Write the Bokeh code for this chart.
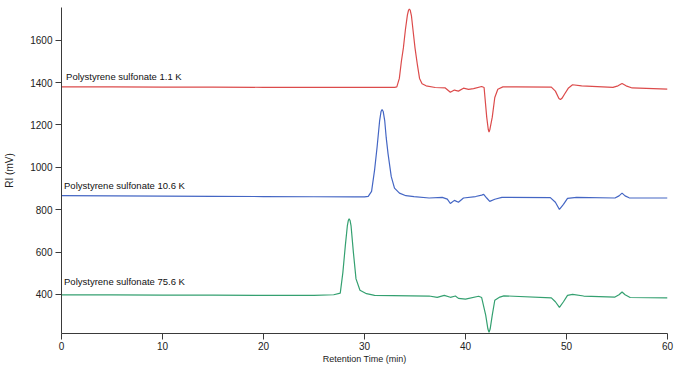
from bokeh.plotting import figure
from bokeh.models import FixedTicker, ColumnDataSource
from bokeh.core.properties import value
from bokeh.embed import file_html
from bokeh.resources import INLINE

# Retention time (min) and RI (mV)
red_t = [0, 5, 10, 15, 20, 25, 30, 33.0, 33.2, 33.45, 33.65, 33.85, 34.05, 34.25, 34.36, 34.44, 34.53, 34.65, 34.8,
         35.0, 35.25, 35.45, 35.7, 36.1, 37.0, 38.0, 38.5, 38.9, 39.3, 39.8, 40.3, 40.8, 41.6, 41.84,
         42.1, 42.25, 42.33, 42.42, 42.65, 42.9, 43.2, 43.7, 45.0, 48.5, 48.9, 49.25, 49.4, 49.55, 49.8, 50.2, 50.6, 51.5, 54.6,
         55.1, 55.5, 55.9, 56.5, 60]
red_v = [1380, 1380, 1379, 1379, 1378, 1378, 1378, 1378, 1380, 1420, 1500, 1564, 1650, 1720, 1742, 1748, 1742, 1715, 1650,
         1564, 1480, 1420, 1395, 1385, 1377, 1375, 1355, 1365, 1360, 1374, 1368, 1372, 1382, 1377,
         1237, 1180, 1167, 1180, 1237, 1330, 1369, 1380, 1380, 1379, 1360, 1325, 1320, 1326, 1345, 1375, 1390, 1385, 1378,
         1385, 1396, 1385, 1375, 1369]

blue_t = [0, 5, 10, 15, 20, 25, 29, 30.0, 30.37, 30.7, 31.0, 31.25, 31.5, 31.64, 31.74, 31.85, 32.0, 32.15, 32.33, 32.65,
          32.97, 33.46, 34.1, 34.9, 36.4, 37.7, 38.2, 38.5, 38.9, 39.3, 39.8, 41.0, 41.6, 41.8, 42.1,
          42.4, 42.9, 43.6, 48.4, 48.9, 49.3, 49.7, 50.1, 51.0, 54.8, 55.2, 55.5, 55.8, 56.2, 60]
blue_v = [866, 865, 864, 863, 862, 861, 860, 860, 863, 886, 988, 1097, 1221, 1264, 1273, 1264, 1221, 1140, 1065, 956,
          902, 878, 866, 862, 855, 858, 850, 829, 844, 835, 855, 862, 869, 872, 855,
          839, 849, 858, 857, 835, 801, 825, 853, 858, 855, 865, 878, 865, 856, 855]

green_t = [0, 5, 10, 15, 20, 25, 26.95, 27.6, 27.86, 28.1, 28.3, 28.4, 28.48, 28.57, 28.67, 28.9, 29.16, 29.55, 30.2,
           31.0, 36.4, 37.2, 37.9, 38.5, 39.0, 39.3, 40.0, 41.3, 41.6, 42.0, 42.22, 42.33, 42.44, 42.65, 42.9, 43.4,
           43.8, 48.5, 48.9, 49.3, 49.7, 50.1, 50.6, 51.7, 54.8, 55.2, 55.5, 55.8, 56.3, 60]
green_v = [397, 397, 396, 396, 395, 395, 398, 406, 504, 629, 723, 749, 757, 749, 723, 598, 473, 419, 403,
           395, 392, 386, 395, 386, 392, 381, 377, 391, 385, 302, 236, 221, 236, 302, 372, 387,
           393, 383, 365, 338, 365, 395, 400, 392, 387, 398, 411, 398, 385, 383]

labels = ["Polystyrene sulfonate 1.1 K", "Polystyrene sulfonate 10.6 K", "Polystyrene sulfonate 75.6 K"]
label_t = [0.45, 0.25, 0.25]
label_v = [1428, 913, 462]

x_ticks = [0, 10, 20, 30, 40, 50, 60]
y_ticks = [400, 600, 800, 1000, 1200, 1400, 1600]

FONT = "Liberation Sans"
AX = "#3a3a3a"

p = figure(width=674, height=366, x_range=(0, 60), y_range=(215, 1755),
           output_backend="svg", toolbar_location=None,
           min_border_left=61, min_border_right=7, min_border_top=7, min_border_bottom=33)

p.line(red_t, red_v, line_color="#dc4b4b", line_width=1.2)
p.line(blue_t, blue_v, line_color="#4466c4", line_width=1.2)
p.line(green_t, green_v, line_color="#34a070", line_width=1.2)

src = ColumnDataSource(dict(x=label_t, y=label_v, t=labels))
p.text(x="x", y="y", text="t", source=src, text_font=value(FONT), text_font_size="9.5px",
       text_color="#111111", text_baseline="middle", text_align="left")

p.xgrid.visible = False
p.ygrid.visible = False
p.outline_line_color = None

for ax in (p.xaxis[0], p.yaxis[0]):
    ax.axis_line_color = AX
    ax.major_tick_line_color = AX
    ax.minor_tick_line_color = None
    ax.major_tick_in = 0
    ax.major_tick_out = 6
    ax.major_label_text_font = FONT
    ax.major_label_text_font_size = "10px"
    ax.major_label_text_color = "#222222"
    ax.axis_label_text_font = FONT
    ax.axis_label_text_font_style = "normal"
    ax.axis_label_text_color = "#222222"

p.xaxis.axis_label_text_font_size = "9px"
p.yaxis.axis_label_text_font_size = "10px"
p.xaxis.ticker = FixedTicker(ticks=x_ticks)
p.yaxis.ticker = FixedTicker(ticks=y_ticks)
p.xaxis.axis_label = "Retention Time (min)"
p.yaxis.axis_label = "RI (mV)"
p.xaxis.major_label_standoff = 2
p.xaxis.axis_label_standoff = 1
p.yaxis.major_label_standoff = 3
p.yaxis.axis_label_standoff = 12

open("out.html", "w").write(file_html(p, INLINE))
